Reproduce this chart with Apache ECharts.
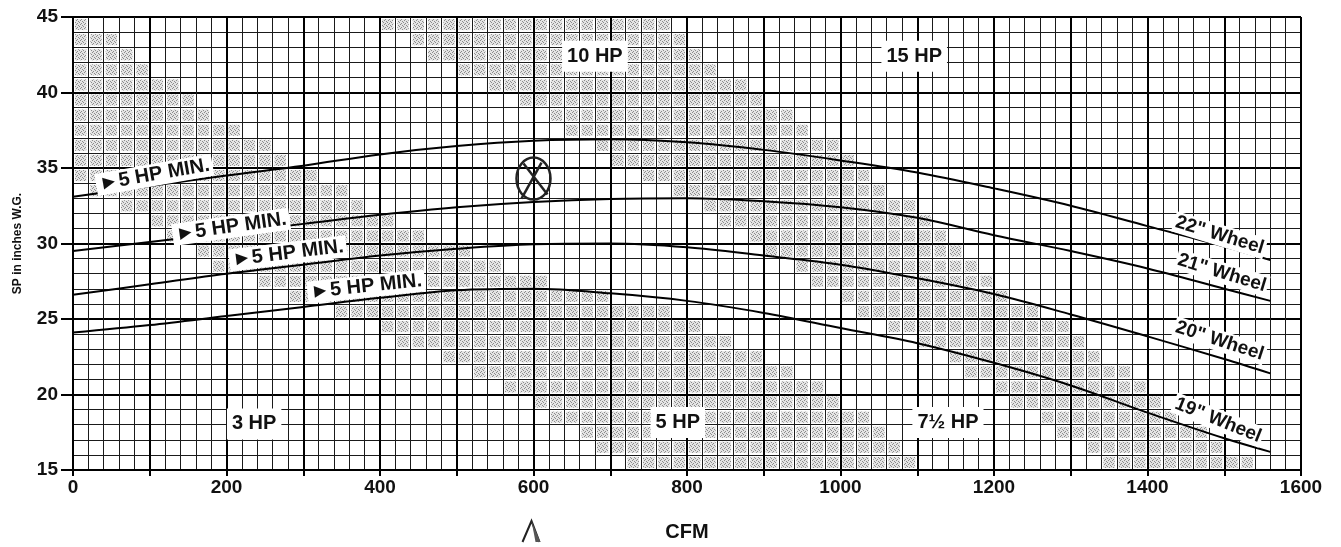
<!DOCTYPE html>
<html>
<head>
<meta charset="utf-8">
<script src="https://cdn.jsdelivr.net/npm/echarts@6/dist/echarts.min.js"></script>
<style>
  html, body { margin: 0; padding: 0; background: #fff; }
  #chart { width: 1341px; height: 547px; }
</style>
</head>
<body>
<div id="chart"></div>
<script>
// Fan performance curves: static pressure (in. W.G.) vs. airflow (CFM)
const cfmPoints = [0, 100, 200, 300, 400, 500, 600, 700, 800, 900, 1000, 1100, 1200, 1300, 1400, 1500, 1560];
const wheel22 = [33.1, 33.8, 34.5, 35.15, 35.9, 36.45, 36.8, 36.9, 36.7, 36.2, 35.5, 34.7, 33.65, 32.5, 31.15, 29.8, 28.9];
const wheel21 = [29.5, 30.1, 30.7, 31.3, 31.9, 32.4, 32.75, 32.95, 33.0, 32.8, 32.4, 31.7, 30.55, 29.5, 28.35, 27.0, 26.2];
const wheel20 = [26.6, 27.3, 28.0, 28.6, 29.2, 29.65, 29.95, 30.0, 29.75, 29.2, 28.6, 27.7, 26.65, 25.3, 23.85, 22.35, 21.4];
const wheel19 = [24.1, 24.6, 25.2, 25.8, 26.4, 26.9, 27.0, 26.7, 26.2, 25.4, 24.4, 23.4, 22.1, 20.6, 18.8, 17.1, 16.2];

// Tick labels
const xTickLabels = [0, 200, 400, 600, 800, 1000, 1200, 1400, 1600];
const yTickLabels = [15, 20, 25, 30, 35, 40, 45];

// Motor HP zones, one entry per 1" SP row (row lower bound), CFM extents of the shaded cells
const zoneRows   = [44, 43, 42, 41, 40, 39, 38, 37, 36, 35, 34, 33, 32, 31, 30, 29, 28, 27, 26, 25, 24, 23, 22, 21, 20, 19, 18, 17, 16, 15];
const zone5From  = [0, 0, 0, 0, 0, 0, 0, 0, 0, 0, 0, 20, 60, 100, 120, 160, 180, 240, 280, 340, 400, 420, 480, 520, 560, 600, 620, 660, 680, 720];
const zone5To    = [20, 60, 80, 100, 140, 160, 180, 220, 260, 280, 320, 360, 380, 420, 460, 520, 560, 620, 700, 780, 820, 860, 900, 940, 980, 1000, 1040, 1060, 1080, 1100];
const zone10From = [400, 440, 460, 500, 540, 580, 620, 640, 680, 700, 740, 780, 820, 840, 880, 900, 940, 960, 1000, 1020, 1060, 1100, 1140, 1160, 1200, 1220, 1260, 1280, 1320, 1340];
const zone10To   = [780, 800, 820, 840, 880, 900, 940, 960, 1000, 1020, 1040, 1060, 1100, 1120, 1140, 1160, 1180, 1200, 1220, 1260, 1300, 1320, 1340, 1380, 1400, 1420, 1440, 1480, 1500, 1540];

// Text annotations
const hpZoneNames = ['3 HP', '5 HP', '7\u00BD HP', '10 HP', '15 HP'];
const hpZoneAt = [[236, 18.05], [788, 18.15], [1140, 18.15], [680, 42.4], [1096, 42.4]];
const wheelNames = ['22" Wheel', '21" Wheel', '20" Wheel', '19" Wheel'];
const wheelNameAt = [[1494, 30.55], [1497, 28.05], [1494, 23.55], [1492, 18.3]];
const wheelNameTilt = [-17, -17, -18, -22];
const minMotorText = '\u25BA5 HP MIN.';
const minMotorAt = [[106, 34.55], [206, 31.1], [280, 29.35], [382, 27.15]];
const minMotorTilt = [10, 8, 7, 6];
const selectedPoint = [600, 34.3];

const FONT = '"Liberation Sans", Arial, Helvetica, sans-serif';

function makeStipple() {
  const c = document.createElement('canvas');
  c.width = 4; c.height = 4;
  const g = c.getContext('2d');
  g.fillStyle = '#e4e4e4';
  g.fillRect(0, 0, 4, 4);
  g.fillStyle = '#8c8c8c';
  [[0, 0], [2, 1], [1, 3], [3, 2]].forEach(p => g.fillRect(p[0], p[1], 1, 1));
  return { type: 'pattern', image: c, repeat: 'repeat' };
}
const stipple = makeStipple();

function renderZones(params, api) {
  const sp = api.value(0);
  const spans = [[api.value(1), api.value(2)], [api.value(3), api.value(4)]];
  const children = [];
  spans.forEach(([from, to]) => {
    for (let c = from; c < to; c += 20) {
      const tl = api.coord([c, sp + 1]);
      const br = api.coord([c + 20, sp]);
      children.push({
        type: 'rect',
        shape: { x: tl[0] + 2, y: tl[1] + 2, width: br[0] - tl[0] - 4, height: br[1] - tl[1] - 4 },
        style: { fill: stipple }
      });
    }
  });
  return { type: 'group', children };
}

function labelEl(text, pt, tiltDeg, size, pad) {
  return {
    type: 'text',
    x: pt[0], y: pt[1],
    rotation: tiltDeg * Math.PI / 180,
    style: {
      text,
      font: 'bold ' + size + 'px ' + FONT,
      fill: '#111',
      align: 'center',
      verticalAlign: 'middle',
      backgroundColor: '#fff',
      padding: pad
    }
  };
}

function renderNotes(params, api) {
  const children = [];
  hpZoneNames.forEach((t, i) => children.push(labelEl(t, api.coord(hpZoneAt[i]), 0, 20, [6, 5, 5, 5])));
  wheelNames.forEach((t, i) => children.push(labelEl(t, api.coord(wheelNameAt[i]), wheelNameTilt[i], 19, [1, 2])));
  minMotorAt.forEach((p, i) => children.push(labelEl(minMotorText, api.coord(p), minMotorTilt[i], 20, [1, 3])));

  // circled selection point
  const c = api.coord(selectedPoint);
  children.push({
    type: 'ellipse',
    shape: { cx: c[0], cy: c[1], rx: 17, ry: 21 },
    style: { fill: 'rgba(255,255,255,0)', stroke: '#222', lineWidth: 2.5 }
  });
  children.push({
    type: 'line',
    shape: { x1: c[0] - 10, y1: c[1] - 15, x2: c[0] + 14, y2: c[1] + 16 },
    style: { stroke: '#222', lineWidth: 2.5 }
  });
  children.push({
    type: 'line',
    shape: { x1: c[0] + 8, y1: c[1] - 16, x2: c[0] - 12, y2: c[1] + 20 },
    style: { stroke: '#222', lineWidth: 2.5 }
  });

  // pen arrow under the CFM axis pointing at the selected airflow
  const b = api.coord([selectedPoint[0], 15]);
  children.push({
    type: 'polyline',
    shape: { points: [[b[0] - 11, b[1] + 72], [b[0] - 2, b[1] + 51], [b[0] + 6, b[1] + 72]] },
    style: { stroke: '#222', lineWidth: 2, fill: null }
  });
  children.push({
    type: 'polygon',
    shape: { points: [[b[0] - 2, b[1] + 51], [b[0] + 2, b[1] + 72], [b[0] + 7, b[1] + 72]] },
    style: { fill: '#555' }
  });
  return { type: 'group', children };
}

function curve(vals) {
  return {
    type: 'line',
    data: cfmPoints.map((x, i) => [x, vals[i]]),
    smooth: 0.35,
    symbol: 'none',
    lineStyle: { color: '#000', width: 2 },
    z: 3,
    silent: true
  };
}

const chart = echarts.init(document.getElementById('chart'), null, { renderer: 'canvas' });
chart.setOption({
  animation: false,
  backgroundColor: '#fff',
  grid: { left: 73, right: 40, top: 17, bottom: 74, containLabel: false },
  xAxis: {
    type: 'value',
    min: 0, max: 1600, interval: 100,
    z: 2,
    name: 'CFM',
    nameLocation: 'middle',
    nameGap: 52,
    nameTextStyle: { color: '#111', fontSize: 20, fontWeight: 'bold', fontFamily: FONT },
    axisLine: { show: true, lineStyle: { color: '#000', width: 2 } },
    axisTick: { show: true, length: 6, lineStyle: { color: '#000', width: 2 } },
    minorTick: { show: false, splitNumber: 5 },
    axisLabel: {
      color: '#111', fontSize: 19, fontWeight: 'bold', fontFamily: FONT, margin: 8,
      formatter: v => (xTickLabels.includes(v) ? String(v) : '')
    },
    splitLine: { show: true, lineStyle: { color: '#000', width: 2 } },
    minorSplitLine: { show: true, lineStyle: { color: '#1a1a1a', width: 1 } }
  },
  yAxis: {
    type: 'value',
    min: 15, max: 45, interval: 5,
    z: 2,
    name: 'SP in inches W.G.',
    nameLocation: 'middle',
    nameGap: 49,
    nameTextStyle: { color: '#111', fontSize: 12, fontWeight: 'bold', fontFamily: FONT },
    axisLine: { show: true, lineStyle: { color: '#000', width: 2 } },
    axisTick: { show: true, length: 12, lineStyle: { color: '#000', width: 2 } },
    minorTick: { show: false, splitNumber: 5 },
    axisLabel: {
      color: '#111', fontSize: 19, fontWeight: 'bold', fontFamily: FONT, margin: 15,
      formatter: v => (yTickLabels.includes(v) ? String(v) : '')
    },
    splitLine: { show: true, lineStyle: { color: '#000', width: 2 } },
    minorSplitLine: { show: true, lineStyle: { color: '#1a1a1a', width: 1 } }
  },
  series: [
    {
      type: 'custom',
      name: 'HP zones',
      z: 1,
      silent: true,
      renderItem: renderZones,
      encode: { x: [1, 2, 3, 4], y: 0 },
      data: zoneRows.map((r, i) => [r, zone5From[i], zone5To[i], zone10From[i], zone10To[i]])
    },
    curve(wheel22),
    curve(wheel21),
    curve(wheel20),
    curve(wheel19),
    {
      type: 'custom',
      name: 'notes',
      z: 5,
      silent: true,
      clip: false,
      renderItem: renderNotes,
      encode: { x: 0, y: 1 },
      data: [selectedPoint]
    }
  ]
});
</script>
</body>
</html>
